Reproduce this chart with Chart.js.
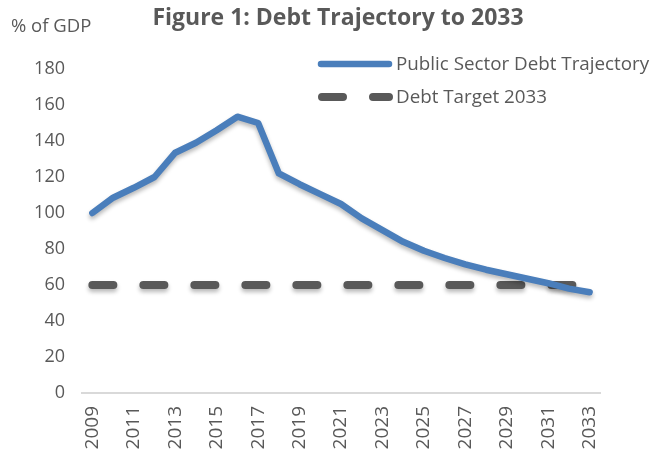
<!DOCTYPE html>
<html>
<head>
<meta charset="utf-8">
<script src="https://cdn.jsdelivr.net/npm/chart.js@4/dist/chart.umd.min.js"></script>
<style>
  html, body { margin: 0; padding: 0; background: #fff; }
  #wrap { width: 662px; height: 453px; }
</style>
</head>
<body>
<div id="wrap"><canvas id="debtChart" width="662" height="453"></canvas></div>
<script>
/* Data */
const years = ['2009', '2010', '2011', '2012', '2013', '2014', '2015', '2016', '2017',
    '2018', '2019', '2020', '2021', '2022', '2023', '2024', '2025', '2026', '2027',
    '2028', '2029', '2030', '2031', '2032', '2033'];
const debtTrajectory = [100, 108.5, 114, 120, 133.5, 139, 146, 153.5, 150,
    122, 116, 110.5, 105, 97, 90.5, 84, 79, 75, 71.5,
    68.5, 66, 63.5, 61, 58, 56];
const debtTarget = years.map(() => 60);
const yTicks = [0, 20, 40, 60, 80, 100, 120, 140, 160, 180];

const textColor = '#595959';
const fontFamily = '"Open Sans", sans-serif';

/* title, axis caption and legend drawn on top */
const decorations = {
    id: 'decorations',
    beforeDatasetsDraw(chart) {
        const ctx = chart.ctx;
        ctx.save();
        ctx.shadowColor = 'rgba(0,0,0,0.28)';
        ctx.shadowBlur = 4;
        ctx.shadowOffsetY = 3;
    },
    afterDatasetsDraw(chart) {
        chart.ctx.restore();
    },
    afterDraw(chart) {
        const ctx = chart.ctx;
        ctx.save();
        ctx.fillStyle = textColor;
        ctx.textBaseline = 'middle';

        ctx.font = 'bold 23px ' + fontFamily;
        ctx.textAlign = 'center';
        ctx.fillText('Figure 1: Debt Trajectory to 2033', 338, 18);

        ctx.font = '18.5px ' + fontFamily;
        ctx.textAlign = 'left';
        ctx.fillText('% of GDP', 11, 27);

        // legend
        const ds = chart.data.datasets;
        const rows = [64, 97];
        ds.forEach((d, i) => {
            const y = rows[i];
            ctx.save();
            ctx.strokeStyle = d.borderColor;
            ctx.lineWidth = d.borderWidth;
            ctx.lineCap = 'round';
            ctx.setLineDash(i === 1 ? [21, 30] : []);
            ctx.beginPath();
            ctx.moveTo(i === 1 ? 322 : 321, y);
            ctx.lineTo(389, y);
            ctx.stroke();
            ctx.restore();
            ctx.font = '18.8px ' + fontFamily;
            ctx.fillText(d.label, 396, y + 1);
        });
        ctx.restore();
    }
};

new Chart(document.getElementById('debtChart'), {
    type: 'line',
    data: {
        labels: years,
        datasets: [
            {
                label: 'Public Sector Debt Trajectory',
                data: debtTrajectory,
                borderColor: '#4a7ebb',
                borderWidth: 6.5,
                borderCapStyle: 'round',
                borderJoinStyle: 'round',
                pointRadius: 0,
                tension: 0
            },
            {
                label: 'Debt Target 2033',
                data: debtTarget,
                borderColor: '#595959',
                borderWidth: 8,
                borderDash: [21, 30],
                borderCapStyle: 'round',
                pointRadius: 0,
                tension: 0
            }
        ]
    },
    plugins: [decorations],
    options: {
        responsive: false,
        animation: false,
        layout: { padding: { top: 69, right: 62, left: 0, bottom: 0 } },
        plugins: {
            legend: { display: false },
            title: { display: false },
            tooltip: { enabled: false }
        },
        scales: {
            x: {
                offset: true,
                grid: { display: false },
                border: { display: true, color: '#d9d9d9', width: 2 },
                afterFit: (scale) => { scale.height = 60; },
                ticks: {
                    autoSkip: false,
                    minRotation: 90,
                    maxRotation: 90,
                    padding: 5,
                    color: textColor,
                    font: { family: fontFamily, size: 19 },
                    callback: (v, i) => (i % 2 === 0 ? years[i] : '')
                }
            },
            y: {
                min: 0,
                max: 180,
                afterFit: (scale) => { scale.width = 82; },
                afterBuildTicks: (scale) => { scale.ticks = yTicks.map(v => ({ value: v })); },
                grid: { display: false, drawTicks: false },
                border: { display: false },
                ticks: {
                    padding: 17,
                    color: textColor,
                    font: { family: fontFamily, size: 18 }
                }
            }
        }
    }
});
</script>
</body>
</html>
